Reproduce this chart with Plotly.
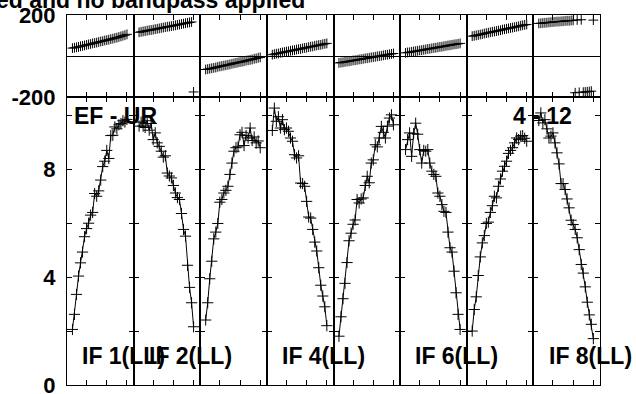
import plotly.graph_objects as go
from plotly.subplots import make_subplots

# Channels plotted in each IF
channels = list(range(3, 31))

if_labels = ["IF 1(LL)", "IF 2(LL)", "", "IF 4(LL)", "", "IF 6(LL)", "", "IF 8(LL)"]

amp_if1 = [2.06, 2.62, 3.36, 4.04, 4.53, 4.93, 5.5, 5.8, 6.0, 6.3, 6.4, 7.1, 7.0, 7.2,
           7.6, 8.1, 8.3, 8.7, 8.4, 9.25, 9.26, 9.57, 9.5, 9.65, 9.7, 9.8, 9.75, 9.85]
amp_if2 = [9.6, 9.75, 9.6, 9.55, 9.8, 9.45, 9.7, 9.1, 9.35, 8.98, 8.85, 8.67, 8.45, 8.5,
           7.86, 7.75, 7.68, 7.4, 7.12, 6.95, 6.88, 6.36, 5.77, 5.52, 4.44, 3.62, 3.05, 2.16]
amp_if3 = [2.41, 3.05, 3.94, 4.59, 5.42, 5.67, 5.99, 6.78, 6.88, 7.12, 7.22, 7.37, 7.81, 8.23,
           8.67, 8.8, 8.83, 9.28, 9.37, 8.88, 9.25, 9.16, 9.53, 9.07, 9.2, 8.98, 9.05, 8.8]
amp_if4 = [9.44, 10.27, 9.78, 9.95, 9.53, 9.84, 9.47, 9.53, 9.41, 9.16, 9.04, 8.54, 8.42, 8.5,
           7.49, 7.47, 7.37, 6.81, 6.23, 6.19, 5.77, 5.3, 4.97, 4.35, 3.7, 3.3, 2.9, 2.2]
amp_if5 = [1.81, 2.53, 3.2, 3.77, 4.54, 5.35, 5.63, 5.96, 6.12, 6.88, 6.75, 6.9, 6.94, 7.4,
           7.74, 7.5, 8.23, 8.35, 8.91, 8.83, 9.16, 9.59, 9.37, 9.16, 9.6, 9.9, 10.02, 9.65]
amp_if6 = [8.73, 9.1, 9.35, 8.48, 9.32, 9.71, 9.3, 8.73, 8.23, 8.7, 8.67, 8.73, 8.23, 7.93,
           7.81, 7.74, 7.12, 7.0, 6.69, 6.44, 6.4, 5.67, 5.09, 4.93, 4.22, 3.42, 2.62, 2.06]
amp_if7 = [2.0, 2.8, 3.27, 4.06, 4.75, 5.27, 5.54, 5.99, 6.04, 6.4, 6.65, 7.0, 6.94, 7.37,
           7.64, 7.93, 8.11, 8.3, 8.59, 8.7, 8.8, 8.98, 9.16, 9.1, 9.23, 9.25, 9.15, 9.04]
amp_if8 = [9.81, 10.09, 9.72, 9.84, 9.5, 9.16, 9.23, 9.35, 8.98, 8.61, 8.2, 7.47, 7.47, 7.25,
           6.9, 6.57, 6.11, 5.95, 5.77, 5.46, 5.02, 4.47, 4.15, 3.64, 3.07, 2.6, 2.25, 1.72]

ph_if1 = [39, 41, 43, 45, 48, 50, 52, 55, 57, 59, 62, 64, 66, 69, 71, 73, 76, 78, 80, 83,
          85, 88, 90, 93, 96, 99, 102, 106]
ph_if2 = [116, 118, 120, 122, 124, 126, 127, 129, 131, 133, 135, 137, 139, 141, 143, 144,
          146, 148, 150, 152, 154, 156, 158, 160, 162, 164, 166, -174]
ph_if3 = [-65, -63, -61, -59, -57, -55, -52, -50, -48, -46, -44, -42, -40, -37, -35, -33,
          -31, -29, -27, -25, -22, -20, -18, -16, -13, -11, -8, -6]
ph_if4 = [7, 10, 12, 13, 16, 18, 20, 22, 23, 26, 28, 29, 32, 34, 35, 38, 40, 41, 44, 46,
          47, 50, 52, 54, 55, 58, 60, 62]
ph_if5 = [-33, -31, -30, -28, -26, -25, -23, -21, -20, -18, -16, -15, -13, -11, -10, -8,
          -6, -5, -3, -1, 0, 2, 4, 6, 7, 9, 11, 13]
ph_if6 = [16, 18, 19, 21, 23, 24, 26, 28, 29, 31, 33, 35, 36, 38, 40, 41, 43, 45, 46, 48,
          50, 52, 53, 55, 57, 58, 60, 62]
ph_if7 = [97, 99, 101, 103, 105, 107, 110, 112, 114, 116, 118, 120, 122, 124, 126, 129,
          131, 133, 135, 137, 139, 141, 143, 145, 148, 150, 152, 154]
ph_if8 = [159, 160, 161, 162, 163, 164, 165, 166, 167, 168, 168, 169, 170, 171, 172, 172,
          173, 174, -178, 176, -176, 177, -175, -174, -173, -172, -170, 175]

amps = [amp_if1, amp_if2, amp_if3, amp_if4, amp_if5, amp_if6, amp_if7, amp_if8]
phases = [ph_if1, ph_if2, ph_if3, ph_if4, ph_if5, ph_if6, ph_if7, ph_if8]

amp_ticks = [0, 2, 4, 6, 8, 10]
amp_ticktext = ["0", "", "4", "", "8", ""]
ph_ticks = [-200, 200]
ph_ticktext = ["-200", "200"]
chan_ticks = [10, 20, 30]

FONT = "Liberation Sans, Arial, sans-serif"

fig = make_subplots(rows=2, cols=8, horizontal_spacing=0, vertical_spacing=0,
                    row_heights=[0.2224, 0.7776])

for i in range(8):
    c = i + 1
    fig.add_trace(go.Scatter(x=channels, y=phases[i], mode="markers",
                             marker=dict(symbol="cross-thin", size=7,
                                         line=dict(color="black", width=1)),
                             showlegend=False),
                  row=1, col=c)
    fig.add_trace(go.Scatter(x=channels, y=amps[i], mode="lines+markers",
                             line=dict(color="black", width=1),
                             marker=dict(symbol="cross-thin", size=8,
                                         line=dict(color="black", width=1)),
                             showlegend=False),
                  row=2, col=c)
    for r in (1, 2):
        fig.update_xaxes(range=[0.3, 33.3], tickvals=chan_ticks, ticks="inside",
                         ticklen=5, tickcolor="black", mirror="allticks",
                         showline=True, linecolor="black", linewidth=1,
                         showgrid=False, zeroline=False, showticklabels=False,
                         automargin=False, row=r, col=c)
    fig.update_yaxes(range=[-200, 200], tickvals=ph_ticks, ticktext=ph_ticktext,
                     ticks="", showline=True, mirror=True, linecolor="black",
                     linewidth=1, showgrid=False, zeroline=True,
                     zerolinecolor="black", zerolinewidth=1, automargin=False,
                     showticklabels=(c == 1), row=1, col=c)
    fig.update_yaxes(range=[0, 10.67], tickvals=amp_ticks, ticktext=amp_ticktext,
                     ticks="inside", ticklen=5, tickcolor="black", mirror="allticks",
                     showline=True, linecolor="black", linewidth=1,
                     showgrid=False, zeroline=False, automargin=False,
                     showticklabels=(c == 1), row=2, col=c)
    if if_labels[i]:
        fig.add_annotation(text=if_labels[i], xref=f"x{c + 8} domain",
                           yref=f"y{c + 8} domain", x=0.2, y=0.1,
                           xanchor="left", yanchor="middle", showarrow=False,
                           font=dict(family=FONT, size=23, color="black",
                                     weight="bold"))

fig.add_annotation(text="EF - UR", xref="x9 domain", yref="y9 domain",
                   x=0.075, y=0.935, xanchor="left", yanchor="middle",
                   showarrow=False,
                   font=dict(family=FONT, size=23, color="black", weight="bold"))
fig.add_annotation(text="4 - 12", xref="x16 domain", yref="y16 domain",
                   x=0.615, y=0.935, xanchor="right", yanchor="middle",
                   showarrow=False,
                   font=dict(family=FONT, size=23, color="black", weight="bold"))
fig.add_annotation(text="ed and no bandpass applied", xref="paper", yref="paper",
                   x=0.4497, y=1.04, xanchor="right", yanchor="middle",
                   showarrow=False,
                   font=dict(family=FONT, size=23, color="black", weight="bold"))

fig.update_yaxes(tickfont=dict(family=FONT, size=22, color="black", weight="bold"),
                 ticklabelstandoff=6, ticklabeloverflow="allow")

fig.update_layout(width=636, height=394, margin=dict(l=67, r=36, t=15, b=9,
                                                     autoexpand=False),
                  paper_bgcolor="white", plot_bgcolor="white",
                  font=dict(family=FONT, color="black"))

fig.write_html("out.html", config={"displayModeBar": False},
               post_script="document.body.style.margin='0';"
                           "document.body.style.overflow='hidden';")
